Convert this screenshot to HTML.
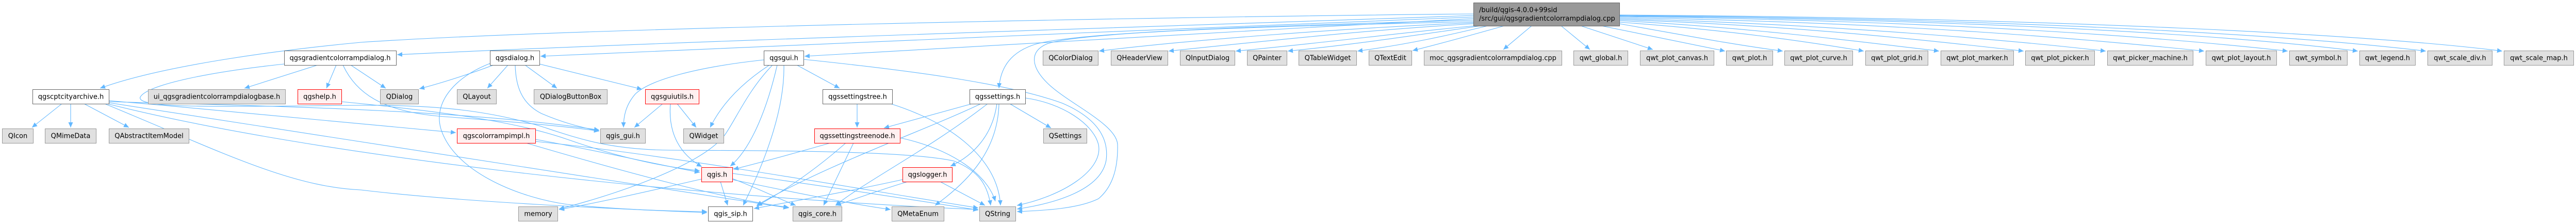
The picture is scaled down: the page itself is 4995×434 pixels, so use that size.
<!DOCTYPE html>
<html><head><meta charset="utf-8">
<style>
html,body{margin:0;padding:0;background:#fff;}
svg{display:block;}
text{font-family:"DejaVu Sans","Liberation Sans",sans-serif;font-size:13px;fill:#000;}
.e{fill:none;stroke:#63b8ff;stroke-width:1.1;marker-end:url(#ah);}
.g{fill:#e0e0e0;stroke:#999999;stroke-width:1;}
.w{fill:#ffffff;stroke:#666666;stroke-width:1;}
.r{fill:#fff0f0;stroke:#ff0000;stroke-width:1;}
.m{fill:#999999;stroke:#666666;stroke-width:1;}
</style></head>
<body>
<svg width="4995" height="434" viewBox="0 0 4995 434" xmlns="http://www.w3.org/2000/svg">
<defs>
<marker id="ah" markerUnits="userSpaceOnUse" markerWidth="11" markerHeight="9" refX="10" refY="4.5" orient="auto">
<path d="M0,0 L10,4.5 L0,9 z" fill="#63b8ff"/>
</marker>
</defs>
<g>
<!-- main node edges -->
<path class="e" d="M2857,27 C2200,33 1100,55 700,82 C560,95 320,125 194,171"/>
<path class="e" d="M2857,30 C2300,50 1300,80 770,106"/>
<path class="e" d="M2857,33 C2300,55 1500,88 1048,109"/>
<path class="e" d="M2857,36 C2400,60 1900,90 1560,109"/>
<path class="e" d="M2857,39 C2450,50 2100,62 2010,85 C1960,100 1940,130 1937,171"/>
<path class="e" d="M2857,42 C2500,50 2100,60 2030,85 C1995,100 2000,130 2030,160 C2070,200 2165,240 2167,280 C2168,320 2160,360 2130,385 C2090,405 2020,408 1972,410"/>
<path class="e" d="M2857,44 C2600,55 2300,78 2131,99"/>
<path class="e" d="M2857,46 C2650,58 2450,80 2266,99"/>
<path class="e" d="M2860,50 C2720,63 2560,84 2396,99"/>
<path class="e" d="M2872,50 C2760,66 2630,86 2497,99"/>
<path class="e" d="M2885,50 C2810,68 2730,86 2632,99"/>
<path class="e" d="M2917,50 C2860,66 2800,83 2739,98"/>
<path class="e" d="M2970,50 L2915,96"/>
<path class="e" d="M3027,50 L3083,96"/>
<path class="e" d="M3065,50 L3205,96"/>
<path class="e" d="M3105,50 L3345,99"/>
<path class="e" d="M3140,46 C3250,65 3350,85 3457,99"/>
<path class="e" d="M3140,43 C3350,58 3500,80 3614,99"/>
<path class="e" d="M3140,40 C3400,54 3600,80 3760,99"/>
<path class="e" d="M3140,38 C3500,50 3750,80 3924,99"/>
<path class="e" d="M3140,36 C3550,47 3900,78 4083,99"/>
<path class="e" d="M3140,34 C3700,44 4050,76 4274,99"/>
<path class="e" d="M3140,32 C3800,41 4200,73 4436,99"/>
<path class="e" d="M3140,31 C3900,39 4350,71 4572,99"/>
<path class="e" d="M3140,30 C3950,37 4450,69 4704,99"/>
<path class="e" d="M3140,29 C4000,35 4600,67 4852,99"/>
<!-- qgsgradientcolorrampdialog.h -->
<path class="e" d="M616,126 L474,171"/>
<path class="e" d="M652,126 L633,171"/>
<path class="e" d="M680,126 L748,171"/>
<path class="e" d="M665,126 C690,180 740,215 850,225 C950,233 1080,242 1162,254"/>
<path class="e" d="M551,124 C400,140 285,165 272,188 C262,212 450,206 700,204 C850,203 950,215 1050,245 C1120,268 1180,290 1300,291 C1500,292 1760,292 1850,312 C1900,332 1915,360 1921,398"/>
<!-- qgscptcityarchive.h -->
<path class="e" d="M120,201 L62,247"/>
<path class="e" d="M137,201 L137,247"/>
<path class="e" d="M163,201 L250,247"/>
<path class="e" d="M211,195 C450,215 700,240 884,257"/>
<path class="e" d="M211,197 C500,205 900,212 1162,252"/>
<path class="e" d="M211,199 L1529,403"/>
<path class="e" d="M208,201 C600,300 1300,380 1897,406"/>
<path class="e" d="M203,201 C420,290 560,362 700,368 C900,392 1200,405 1371,412"/>
<!-- qgshelp.h -->
<path class="e" d="M662,197 C850,215 1000,235 1100,270 C1200,305 1280,322 1357,331"/>
<!-- qgsdialog.h -->
<path class="e" d="M957,126 C920,140 860,160 813,172"/>
<path class="e" d="M985,126 L945,171"/>
<path class="e" d="M1018,126 L1080,171"/>
<path class="e" d="M1046,124 L1245,173"/>
<path class="e" d="M999,126 C1000,165 1010,200 1050,220 C1090,237 1120,245 1162,254"/>
<path class="e" d="M950,123 C880,150 840,200 855,250 C880,330 1000,382 1100,396 C1200,406 1300,409 1371,410"/>
<!-- qgsgui.h -->
<path class="e" d="M1545,126 L1628,171"/>
<path class="e" d="M1481,116 C1350,130 1260,155 1232,182 C1212,205 1209,228 1209,247"/>
<path class="e" d="M1492,126 C1440,160 1400,200 1377,247"/>
<path class="e" d="M1507,126 C1490,200 1460,285 1416,322"/>
<path class="e" d="M1520,126 C1522,220 1475,330 1441,398"/>
<path class="e" d="M1498,126 C1450,175 1425,235 1405,262 C1360,320 1200,375 1084,405"/>
<path class="e" d="M1558,115 C1750,135 1950,160 2060,200 C2130,230 2150,270 2145,310 C2135,370 2040,395 1972,405"/>
<!-- qgsguiutils.h -->
<path class="e" d="M1285,201 L1230,247"/>
<path class="e" d="M1313,201 L1350,247"/>
<path class="e" d="M1300,201 C1295,260 1320,300 1361,323"/>
<!-- qgscolorrampimpl.h -->
<path class="e" d="M1038,270 C1150,290 1270,318 1357,334"/>
<path class="e" d="M1020,277 C1200,330 1400,385 1530,402"/>
<path class="e" d="M1038,274 C1300,300 1700,372 1897,403"/>
<!-- qgssettingstree.h -->
<path class="e" d="M1662,201 L1662,247"/>
<path class="e" d="M1727,201 C1850,240 1935,310 1940,398"/>
<!-- qgssettings.h -->
<path class="e" d="M1885,201 L1714,248"/>
<path class="e" d="M1958,201 L2038,248"/>
<path class="e" d="M1933,201 C1925,260 1890,300 1843,322"/>
<path class="e" d="M1902,201 C1800,250 1600,320 1467,398"/>
<path class="e" d="M1915,201 C1800,290 1680,350 1620,398"/>
<path class="e" d="M1937,201 C1935,290 1880,350 1813,398"/>
<path class="e" d="M1989,190 C2060,200 2120,240 2130,280 C2140,330 2060,380 1972,398"/>
<!-- qgssettingstreenode.h -->
<path class="e" d="M1610,277 C1530,300 1470,316 1422,328"/>
<path class="e" d="M1640,277 C1580,330 1520,370 1468,399"/>
<path class="e" d="M1655,277 L1597,398"/>
<path class="e" d="M1745,267 C1850,290 1915,340 1930,390"/>
<!-- qgslogger.h -->
<path class="e" d="M1750,348 C1650,370 1550,388 1462,404"/>
<path class="e" d="M1760,352 C1700,370 1660,385 1621,398"/>
<path class="e" d="M1823,352 L1910,398"/>
<!-- qgis.h -->
<path class="e" d="M1360,347 C1260,370 1150,395 1084,406"/>
<path class="e" d="M1397,352 L1411,398"/>
<path class="e" d="M1420,346 C1470,365 1510,385 1543,398"/>
<path class="e" d="M1420,348 C1550,375 1650,395 1727,406"/>
<path class="e" d="M1420,336 C1600,360 1800,392 1897,407"/>
</g>

<!-- nodes -->
<g>
<rect class="m" x="2857.5" y="5.5" width="283" height="45"/>
<text x="2868" y="23.5">/build/qgis-4.0.0+99sid</text>
<text x="2868" y="40">/src/gui/qgsgradientcolorrampdialog.cpp</text>

<rect class="w" x="551.5" y="98.5" width="217" height="28"/><text x="659.5" y="116.5" text-anchor="middle">qgsgradientcolorrampdialog.h</text>
<rect class="w" x="950.5" y="98.5" width="96" height="28"/><text x="998.5" y="116.5" text-anchor="middle">qgsdialog.h</text>
<rect class="w" x="1481.5" y="98.5" width="77" height="28"/><text x="1520" y="116.5" text-anchor="middle">qgsgui.h</text>
<rect class="g" x="2022.5" y="98.5" width="107" height="28"/><text x="2076" y="116.5" text-anchor="middle">QColorDialog</text>
<rect class="g" x="2154.5" y="98.5" width="110" height="28"/><text x="2209.5" y="116.5" text-anchor="middle">QHeaderView</text>
<rect class="g" x="2288.5" y="98.5" width="106" height="28"/><text x="2341.5" y="116.5" text-anchor="middle">QInputDialog</text>
<rect class="g" x="2418.5" y="98.5" width="77" height="28"/><text x="2457" y="116.5" text-anchor="middle">QPainter</text>
<rect class="g" x="2518.5" y="98.5" width="112" height="28"/><text x="2574.5" y="116.5" text-anchor="middle">QTableWidget</text>
<rect class="g" x="2654.5" y="98.5" width="83" height="28"/><text x="2696" y="116.5" text-anchor="middle">QTextEdit</text>
<rect class="g" x="2761.5" y="98.5" width="267" height="28"/><text x="2895" y="116.5" text-anchor="middle">moc_qgsgradientcolorrampdialog.cpp</text>
<rect class="g" x="3051.5" y="98.5" width="105" height="28"/><text x="3104" y="116.5" text-anchor="middle">qwt_global.h</text>
<rect class="g" x="3180.5" y="98.5" width="143" height="28"/><text x="3252" y="116.5" text-anchor="middle">qwt_plot_canvas.h</text>
<rect class="g" x="3347.5" y="98.5" width="90" height="28"/><text x="3392.5" y="116.5" text-anchor="middle">qwt_plot.h</text>
<rect class="g" x="3460.5" y="98.5" width="132" height="28"/><text x="3526.5" y="116.5" text-anchor="middle">qwt_plot_curve.h</text>
<rect class="g" x="3617.5" y="98.5" width="121" height="28"/><text x="3678" y="116.5" text-anchor="middle">qwt_plot_grid.h</text>
<rect class="g" x="3763.5" y="98.5" width="141" height="28"/><text x="3834" y="116.5" text-anchor="middle">qwt_plot_marker.h</text>
<rect class="g" x="3927.5" y="98.5" width="134" height="28"/><text x="3994.5" y="116.5" text-anchor="middle">qwt_plot_picker.h</text>
<rect class="g" x="4086.5" y="98.5" width="166" height="28"/><text x="4169.5" y="116.5" text-anchor="middle">qwt_picker_machine.h</text>
<rect class="g" x="4277.5" y="98.5" width="137" height="28"/><text x="4346" y="116.5" text-anchor="middle">qwt_plot_layout.h</text>
<rect class="g" x="4439.5" y="98.5" width="112" height="28"/><text x="4495.5" y="116.5" text-anchor="middle">qwt_symbol.h</text>
<rect class="g" x="4575.5" y="98.5" width="108" height="28"/><text x="4629.5" y="116.5" text-anchor="middle">qwt_legend.h</text>
<rect class="g" x="4707.5" y="98.5" width="125" height="28"/><text x="4770" y="116.5" text-anchor="middle">qwt_scale_div.h</text>
<rect class="g" x="4855.5" y="98.5" width="135" height="28"/><text x="4923" y="116.5" text-anchor="middle">qwt_scale_map.h</text>

<rect class="w" x="63.5" y="173.5" width="148" height="28"/><text x="137.5" y="191.5" text-anchor="middle">qgscptcityarchive.h</text>
<rect class="g" x="287.5" y="173.5" width="266" height="28"/><text x="420.5" y="191.5" text-anchor="middle">ui_qgsgradientcolorrampdialogbase.h</text>
<rect class="r" x="577.5" y="173.5" width="85" height="28"/><text x="620" y="191.5" text-anchor="middle">qgshelp.h</text>
<rect class="g" x="737.5" y="173.5" width="74" height="28"/><text x="774.5" y="191.5" text-anchor="middle">QDialog</text>
<rect class="g" x="886.5" y="173.5" width="76" height="28"/><text x="924.5" y="191.5" text-anchor="middle">QLayout</text>
<rect class="g" x="1035.5" y="173.5" width="142" height="28"/><text x="1106.5" y="191.5" text-anchor="middle">QDialogButtonBox</text>
<rect class="r" x="1251.5" y="173.5" width="104" height="28"/><text x="1303.5" y="191.5" text-anchor="middle">qgsguiutils.h</text>
<rect class="w" x="1595.5" y="173.5" width="135" height="28"/><text x="1663" y="191.5" text-anchor="middle">qgssettingstree.h</text>
<rect class="w" x="1880.5" y="173.5" width="108" height="28"/><text x="1934.5" y="191.5" text-anchor="middle">qgssettings.h</text>

<rect class="g" x="4.5" y="249.5" width="60" height="28"/><text x="34.5" y="267.5" text-anchor="middle">QIcon</text>
<rect class="g" x="87.5" y="249.5" width="99" height="28"/><text x="137" y="267.5" text-anchor="middle">QMimeData</text>
<rect class="g" x="211.5" y="249.5" width="155" height="28"/><text x="289" y="267.5" text-anchor="middle">QAbstractItemModel</text>
<rect class="r" x="886.5" y="249.5" width="152" height="28"/><text x="962.5" y="267.5" text-anchor="middle">qgscolorrampimpl.h</text>
<rect class="g" x="1164.5" y="249.5" width="87" height="28"/><text x="1208" y="267.5" text-anchor="middle">qgis_gui.h</text>
<rect class="g" x="1325.5" y="249.5" width="78" height="28"/><text x="1364.5" y="267.5" text-anchor="middle">QWidget</text>
<rect class="r" x="1579.5" y="249.5" width="166" height="28"/><text x="1662.5" y="267.5" text-anchor="middle">qgssettingstreenode.h</text>
<rect class="g" x="2023.5" y="249.5" width="84" height="28"/><text x="2065.5" y="267.5" text-anchor="middle">QSettings</text>

<rect class="r" x="1360.5" y="324.5" width="60" height="28"/><text x="1390.5" y="342.5" text-anchor="middle">qgis.h</text>
<rect class="r" x="1750.5" y="324.5" width="96" height="28"/><text x="1798.5" y="342.5" text-anchor="middle">qgslogger.h</text>

<rect class="g" x="1005.5" y="400.5" width="76" height="28"/><text x="1043.5" y="418.5" text-anchor="middle">memory</text>
<rect class="w" x="1373.5" y="400.5" width="86" height="28"/><text x="1416.5" y="418.5" text-anchor="middle">qgis_sip.h</text>
<rect class="g" x="1537.5" y="400.5" width="95" height="28"/><text x="1585" y="418.5" text-anchor="middle">qgis_core.h</text>
<rect class="g" x="1729.5" y="400.5" width="101" height="28"/><text x="1780" y="418.5" text-anchor="middle">QMetaEnum</text>
<rect class="g" x="1899.5" y="400.5" width="70" height="28"/><text x="1934.5" y="418.5" text-anchor="middle">QString</text>
</g>
</svg>
</body></html>
